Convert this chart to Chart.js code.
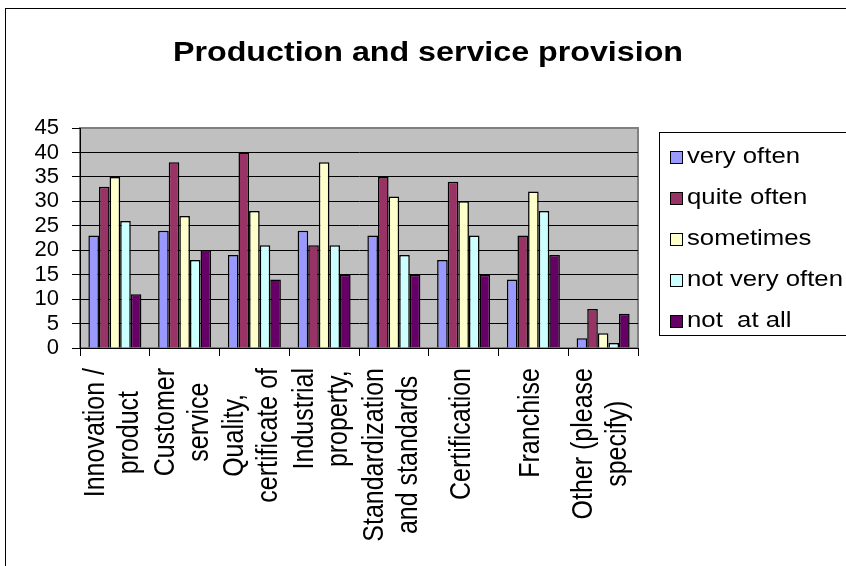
<!DOCTYPE html>
<html>
<head>
<meta charset="utf-8">
<script src="https://cdn.jsdelivr.net/npm/chart.js@4.4.1/dist/chart.umd.min.js"></script>
<style>
  html, body { margin: 0; padding: 0; background: #fff; }
</style>
</head>
<body>
<canvas id="chart" width="846" height="566"></canvas>
<script>
// chart data
var chartTitle = 'Production and service provision';
var categories = [
  ['Innovation /', 'product'],
  ['Customer', 'service'],
  ['Quality,', 'certificate of'],
  ['Industrial', 'property,'],
  ['Standardization', 'and standards'],
  ['Certification'],
  ['Franchise'],
  ['Other (please', 'specify)']
];
var seriesNames = ['very often', 'quite often', 'sometimes', 'not very often', 'not  at all'];
var veryOften    = [23, 24, 19, 24, 23, 18, 14, 2];
var quiteOften   = [33, 38, 40, 21, 35, 34, 23, 8];
var sometimes    = [35, 27, 28, 38, 31, 30, 32, 3];
var notVeryOften = [26, 18, 21, 21, 19, 23, 28, 1];
var notAtAll     = [11, 20, 14, 15, 15, 15, 19, 7];
var yMax = 45;
var yStep = 5;

var seriesColors = ['#9999FF', '#993366', '#FFFFCC', '#CCFFFF', '#660066'];
var FONT = '"Liberation Sans", Arial, sans-serif';

// text in the picture looks a bit wide, so stretch our own text a little
function wideText(ctx, text, x, y, align, sx) {
  ctx.save();
  ctx.translate(x, y);
  ctx.scale(sx, 1);
  ctx.textAlign = align;
  ctx.fillText(text, 0, 0);
  ctx.restore();
}

var frame = {
  id: 'frame',
  beforeDraw: function(chart) {
    var ctx = chart.ctx, a = chart.chartArea;
    ctx.save();
    ctx.fillStyle = '#fff';
    ctx.fillRect(0, 0, chart.width, chart.height);
    // outer chart border (runs off the right and bottom)
    ctx.strokeStyle = '#000';
    ctx.lineWidth = 1;
    ctx.strokeRect(5.5, 8.5, 1000, 1000);
    // plot area
    ctx.fillStyle = '#C0C0C0';
    ctx.fillRect(a.left, a.top, a.right - a.left, a.bottom - a.top);
    ctx.strokeStyle = '#808080';
    ctx.lineWidth = 2;
    ctx.strokeRect(a.left, a.top, a.right - a.left, a.bottom - a.top);
    ctx.restore();
  },
  afterDraw: function(chart) {
    var ctx = chart.ctx;
    var xs = chart.scales.x;
    ctx.save();
    ctx.fillStyle = '#000';

    // title
    ctx.font = 'bold 28px ' + FONT;
    ctx.textBaseline = 'alphabetic';
    wideText(ctx, chartTitle, 428, 61, 'center', 1.15);

    // category labels, rotated, lines centred on each other
    ctx.font = '25px ' + FONT;
    ctx.textBaseline = 'middle';
    ctx.textAlign = 'center';
    var lineGap = 34, labelTop = 368;
    categories.forEach(function(lines, i) {
      var cx = xs.getPixelForValue(i) - 2;
      var longest = 0;
      lines.forEach(function(s) { longest = Math.max(longest, ctx.measureText(s).width); });
      var cy = labelTop + longest / 2;
      lines.forEach(function(s, j) {
        var lx = cx + (j - (lines.length - 1) / 2) * lineGap;
        ctx.save();
        ctx.translate(lx, cy);
        ctx.rotate(-Math.PI / 2);
        ctx.scale(1, 1.15);
        ctx.fillText(s, 0, 0);
        ctx.restore();
      });
    });

    // legend
    var lx = 659, ly = 132;
    ctx.strokeStyle = '#000';
    ctx.lineWidth = 1;
    ctx.strokeRect(lx + 0.5, ly + 0.5, 400, 203);
    ctx.font = '22px ' + FONT;
    ctx.textBaseline = 'middle';
    chart.data.datasets.forEach(function(ds, i) {
      var y = 157 + i * 41;
      ctx.fillStyle = ds.backgroundColor;
      ctx.fillRect(670, y - 6, 12, 12);
      ctx.strokeRect(670.5, y - 5.5, 12, 12);
      ctx.fillStyle = '#000';
      wideText(ctx, ds.label, 687, y, 'left', 1.17);
    });
    ctx.restore();
  }
};

var series = [veryOften, quiteOften, sometimes, notVeryOften, notAtAll];

new Chart(document.getElementById('chart'), {
  type: 'bar',
  data: {
    labels: categories,
    datasets: series.map(function(values, i) {
      return {
        label: seriesNames[i],
        data: values,
        backgroundColor: seriesColors[i],
        borderColor: '#000',
        borderWidth: 1.5,
        borderSkipped: 'start',
        categoryPercentage: 0.76,
        barPercentage: 1.0
      };
    })
  },
  options: {
    responsive: false,
    animation: false,
    layout: { padding: { top: 128, right: 208, bottom: 0, left: 0 } },
    plugins: {
      legend: { display: false },
      title: { display: false },
      tooltip: { enabled: false }
    },
    scales: {
      x: {
        grid: { offset: true, drawOnChartArea: false, drawTicks: true, tickLength: 8, color: '#000', lineWidth: 1 },
        border: { color: '#000', width: 1 },
        ticks: { display: false },
        afterFit: function(scale) { scale.height = 218; }
      },
      y: {
        min: 0,
        max: yMax,
        grid: {
          color: function(c) { return c.tick && c.tick.value === yMax ? '#808080' : '#000'; },
          tickColor: '#000',
          tickLength: 8,
          lineWidth: 1
        },
        border: { color: '#000', width: 1 },
        ticks: {
          stepSize: yStep,
          autoSkip: false,
          padding: 13,
          color: '#000',
          font: { family: FONT, size: 22, lineHeight: 1 }
        },
        afterFit: function(scale) { scale.width = 80; }
      }
    }
  },
  plugins: [frame]
});
</script>
</body>
</html>
